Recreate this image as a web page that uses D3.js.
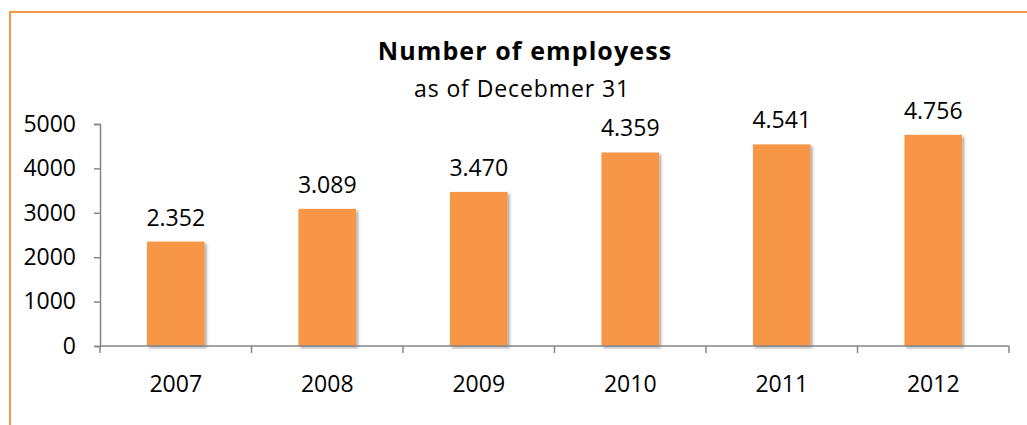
<!DOCTYPE html>
<html>
<head>
<meta charset="utf-8">
<script src="https://cdn.jsdelivr.net/npm/d3@7"></script>
<style>
  body { margin: 0; background: #fff; }
  svg { display: block; }
</style>
</head>
<body>
<div id="chart"></div>
<script>
// data
const years = ["2007", "2008", "2009", "2010", "2011", "2012"];
const employees = [2352, 3089, 3470, 4359, 4541, 4756];
const valueLabels = ["2.352", "3.089", "3.470", "4.359", "4.541", "4.756"];
const yTicks = [0, 1000, 2000, 3000, 4000, 5000];

const width = 1027, height = 425;
const margin = { top: 124, right: 18, bottom: 79, left: 100 };
const innerW = width - margin.left - margin.right;
const innerH = height - margin.top - margin.bottom;

const svg = d3.select("#chart").append("svg")
    .attr("width", width)
    .attr("height", height);

// soft shadow like the excel bars
const defs = svg.append("defs");
const f = defs.append("filter").attr("id", "shadow")
    .attr("x", "-20%").attr("y", "-10%").attr("width", "150%").attr("height", "130%");
f.append("feDropShadow")
    .attr("dx", 2).attr("dy", 2).attr("stdDeviation", 1.8)
    .attr("flood-color", "#000").attr("flood-opacity", 0.35);

// chart frame (clipped by the picture on right and bottom)
svg.append("rect")
    .attr("x", 10).attr("y", 12)
    .attr("width", 1100).attr("height", 500)
    .attr("fill", "none")
    .attr("stroke", "#F79646")
    .attr("stroke-width", 2);

const font = "'Open Sans', sans-serif";

// title
svg.append("text")
    .attr("x", 525).attr("y", 60)
    .attr("text-anchor", "middle")
    .style("font-family", font)
    .style("font-size", "25px")
    .style("font-weight", "bold")
    .style("letter-spacing", "1.1px")
    .text("Number of employess");

svg.append("text")
    .attr("x", 522).attr("y", 97)
    .attr("text-anchor", "middle")
    .style("font-family", font)
    .style("font-size", "23px")
    .style("letter-spacing", "0.9px")
    .text("as of Decebmer 31");

const g = svg.append("g")
    .attr("transform", `translate(${margin.left},${margin.top})`);

const x = d3.scaleBand()
    .domain(years)
    .range([0, innerW])
    .paddingInner(0.62)
    .paddingOuter(0.31);

const xOuter = d3.scaleBand()
    .domain(years)
    .range([0, innerW]);

const y = d3.scaleLinear()
    .domain([0, 5000])
    .range([innerH, 0]);

// bars
g.selectAll("rect.bar")
    .data(employees)
    .enter()
    .append("rect")
    .attr("class", "bar")
    .attr("x", (d, i) => x(years[i]))
    .attr("y", d => y(d))
    .attr("width", x.bandwidth())
    .attr("height", d => innerH - y(d))
    .attr("fill", "#F79646")
    .attr("filter", "url(#shadow)");

// value labels
g.selectAll("text.val")
    .data(employees)
    .enter()
    .append("text")
    .attr("class", "val")
    .attr("x", (d, i) => x(years[i]) + x.bandwidth() / 2)
    .attr("y", d => y(d) - 16)
    .attr("text-anchor", "middle")
    .style("font-family", font)
    .style("font-size", "23px")
    .text((d, i) => valueLabels[i]);

// y axis
const yAxis = g.append("g")
    .call(d3.axisLeft(y).tickValues(yTicks).tickFormat(d3.format("d")).tickSize(6).tickPadding(18));
yAxis.select(".domain").attr("stroke", "#868686").attr("stroke-width", 1.5);
yAxis.selectAll(".tick line").attr("stroke", "#868686").attr("stroke-width", 1.5);
yAxis.selectAll(".tick text")
    .style("font-family", font)
    .style("font-size", "23px")
    .attr("fill", "#000");

// x axis: ticks between categories
const xAxis = g.append("g")
    .attr("transform", `translate(0,${innerH})`);
xAxis.append("line")
    .attr("x1", 0).attr("x2", innerW)
    .attr("stroke", "#868686").attr("stroke-width", 1.5);
xAxis.selectAll("line.tk")
    .data(years.concat(["end"]))
    .enter()
    .append("line")
    .attr("class", "tk")
    .attr("x1", (d, i) => i < years.length ? xOuter(d) : innerW)
    .attr("x2", (d, i) => i < years.length ? xOuter(d) : innerW)
    .attr("y1", 0).attr("y2", 7)
    .attr("stroke", "#868686").attr("stroke-width", 1.5);
xAxis.selectAll("text")
    .data(years)
    .enter()
    .append("text")
    .attr("x", d => xOuter(d) + xOuter.bandwidth() / 2)
    .attr("y", 46)
    .attr("text-anchor", "middle")
    .style("font-family", font)
    .style("font-size", "23px")
    .text(d => d);
</script>
</body>
</html>
